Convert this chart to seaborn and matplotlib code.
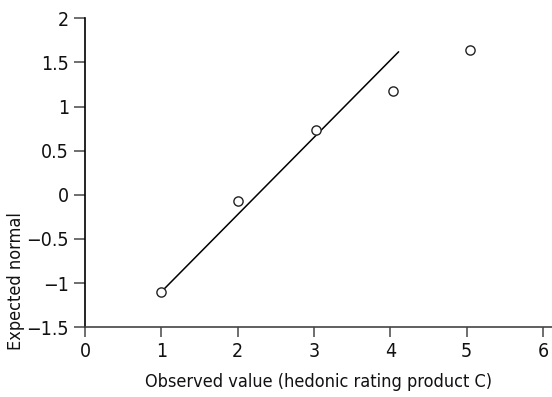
import matplotlib
matplotlib.use("Agg")
import matplotlib.pyplot as plt
import seaborn as sns

# observed ratings and expected normal scores
observed = [0.99, 2.0, 3.03, 4.03, 5.05]
expected = [-1.10, -0.07, 0.73, 1.18, 1.64]

# reference line end points
line_x = [1.0, 4.11]
line_y = [-1.10, 1.62]

x_ticks = [0, 1, 2, 3, 4, 5, 6]
y_ticks = [-1.5, -1, -0.5, 0, 0.5, 1, 1.5, 2]
y_labels = ["\u22121.5", "\u22121", "\u22120.5", "0", "0.5", "1", "1.5", "2"]

sns.set_style("ticks")
plt.rcParams["font.family"] = ["DejaVu Sans"]
plt.rcParams["font.stretch"] = "condensed"

fig = plt.figure(figsize=(5.52, 3.97), dpi=100)
ax = fig.add_axes([0.154, 0.176, 0.846, 0.778])

ax.plot(line_x, line_y, color="black", lw=1.1)
sns.scatterplot(x=observed, y=expected, ax=ax, marker="o", s=44,
                facecolor="white", edgecolor="#222222", linewidth=1.0, zorder=3)

ax.set_xlim(0, 6.12)
ax.set_ylim(-1.5, 2)
ax.set_xticks(x_ticks)
ax.set_yticks(y_ticks)
ax.set_yticklabels(y_labels)
ax.tick_params(axis="both", labelsize=14, colors="#555555", labelcolor="#111111",
               length=8, width=1.2)
ax.tick_params(axis="x", length=7, pad=4)

for side in ["top", "right"]:
    ax.spines[side].set_visible(False)
for side in ["left", "bottom"]:
    ax.spines[side].set_color("black")
    ax.spines[side].set_linewidth(1.2)
ax.spines["bottom"].set_color("#444444")

ax.set_xlabel("Observed value (hedonic rating product C)", fontsize=13, color="#111111", labelpad=8)
ax.set_ylabel("Expected normal", fontsize=13, color="#111111")
ax.yaxis.set_label_coords(-0.128, 0.15)

fig.savefig("out.png", dpi=100)
